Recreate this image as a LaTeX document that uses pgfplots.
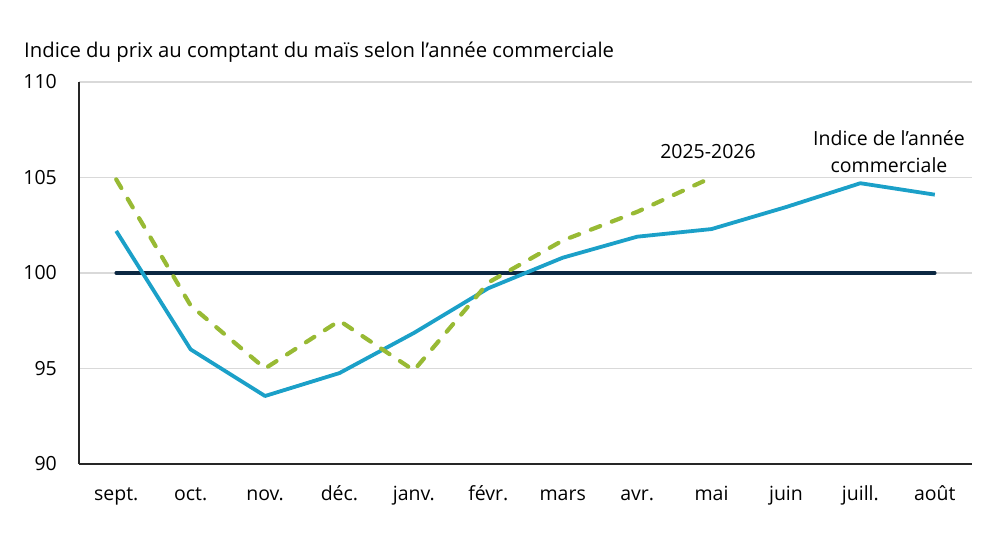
\documentclass[border=0pt]{standalone}
\usepackage{fontspec}
\setmainfont{Open Sans}
\usepackage{pgfplots}
\pgfplotsset{compat=1.18}
\definecolor{indexblue}{RGB}{27,160,200}
\definecolor{seasongreen}{RGB}{152,186,52}
\definecolor{navy}{RGB}{12,40,66}
\definecolor{gridgrey}{RGB}{217,217,217}
\definecolor{axisgrey}{RGB}{38,38,38}
\newcommand{\chartfont}{\fontsize{19.5bp}{23bp}\selectfont}

\begin{document}
\chartfont
\begin{tikzpicture}[x=1bp,y=1bp]
\useasboundingbox (0,0) rectangle (992,558);
\begin{axis}[
    at={(79bp,94bp)}, anchor=south west,
    scale only axis,
    width=893bp, height=382bp,
    xmin=-0.5, xmax=11.5,
    ymin=90, ymax=110,
    xtick={0,...,11},
    xticklabels={sept.,oct.,nov.,déc.,janv.,févr.,mars,avr.,mai,juin,juill.,août},
    ytick={90,95,...,110},
    ymajorgrids,
    grid style={gridgrey, line width=1.2bp},
    axis x line*=bottom,
    axis y line*=left,
    axis line style={axisgrey, line width=1.5bp, -},
    tick style={draw=none},
    major tick length=0pt,
    xticklabel style={anchor=base, inner sep=0pt, yshift=-37bp},
    yticklabel style={anchor=east, inner sep=0pt, xshift=-22bp},
    ticklabel style={font=\chartfont},
    /pgf/number format/assume math mode=true,
    clip=false,
]
\addplot[navy, line width=3.5bp, line cap=round] coordinates {(0,100)(11,100)};
\addplot[indexblue, line width=3.8bp, line join=round] coordinates {
    (0,102.2)(1,96.0)(2,93.56)(3,94.76)(4,96.86)(5,99.2)
    (6,100.8)(7,101.9)(8,102.3)(9,103.45)(10,104.7)(11,104.1)};
\addplot[seasongreen, line width=4.2bp, line cap=round, dash pattern=on 10bp off 12.5bp] coordinates {
    (0,104.9)(1,98.3)(2,95.0)(3,97.5)(4,94.9)(5,99.5)
    (6,101.7)(7,103.2)(8,105.0)};
\end{axis}
\node[anchor=base west, inner sep=0pt, font=\fontsize{20.3bp}{24bp}\selectfont] at (24,558-58) {Indice du prix au comptant du maïs selon l’année commerciale};
\node[anchor=base, inner sep=0pt] at (708,558-159) {2025-2026};
\node[anchor=base, inner sep=0pt] at (889,558-146) {Indice de l’année};
\node[anchor=base, inner sep=0pt] at (889,558-173) {commerciale};
\end{tikzpicture}
\end{document}
